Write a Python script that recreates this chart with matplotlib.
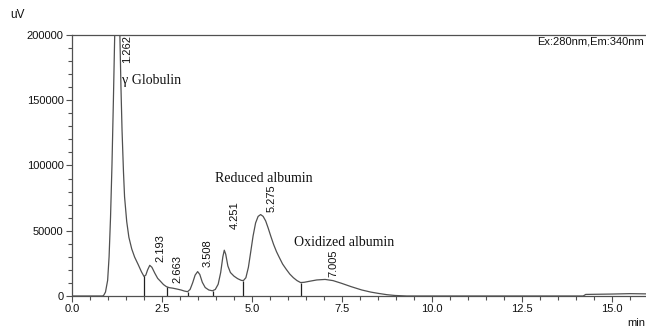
import matplotlib
matplotlib.use("Agg")
import matplotlib.pyplot as plt
from matplotlib.ticker import MultipleLocator

# ---- data ----
time_min = [0.0, 0.85, 0.88, 0.93, 0.99, 1.03, 1.07, 1.11, 1.15, 1.19, 1.22, 1.262,
            1.30, 1.33, 1.36, 1.39, 1.43, 1.46, 1.52, 1.58, 1.66, 1.74, 1.84, 1.93,
            2.00, 2.05, 2.10, 2.16, 2.22, 2.30, 2.38, 2.45, 2.54, 2.62, 2.70, 2.80,
            2.92, 3.03, 3.12, 3.21, 3.28, 3.35, 3.42, 3.49, 3.55, 3.62, 3.70, 3.80,
            3.90, 3.98, 4.06, 4.13, 4.19, 4.23, 4.27, 4.33, 4.40, 4.50, 4.60, 4.70,
            4.76, 4.83, 4.90, 4.96, 5.03, 5.10, 5.17, 5.24, 5.31, 5.38, 5.45, 5.52,
            5.60, 5.68, 5.75, 5.85, 5.95, 6.05, 6.15, 6.25, 6.35, 6.45, 6.60, 6.80,
            7.03, 7.25, 7.49, 7.75, 8.05, 8.30, 8.51, 8.75, 8.97, 9.30, 14.20, 14.27,
            14.50, 15.00, 15.50, 16.00]
signal_uV = [0, 0, 500, 3000, 12000, 30000, 60000, 100000, 150000, 205000, 240000, 260000,
             230000, 200000, 160000, 127000, 95000, 76000, 57000, 45000, 36000, 29800, 24000, 18500,
             15000, 16000, 20000, 23500, 22000, 17500, 13500, 11500, 8800, 7200, 6400, 6000,
             5300, 4600, 3800, 3300, 5000, 10000, 16000, 18700, 16500, 10500, 6500, 4600,
             4000, 5000, 9000, 18000, 30000, 35100, 32000, 23000, 18000, 15200, 13300, 12000,
             11800, 14000, 22000, 33000, 46000, 56000, 61000, 62400, 61000, 57500, 52000, 46000,
             39500, 34000, 30000, 24500, 20500, 16800, 14000, 11800, 10300, 10500, 11300, 12300,
             12700, 11800, 9700, 7200, 4600, 3000, 2000, 1000, 400, 0, 0, 1200,
             1300, 1500, 1800, 1600]

# integration drop lines (time, height)
drop_times = [2.00, 2.64, 3.21, 3.92, 4.76, 6.35]
drop_heights = [15000, 7100, 3300, 4000, 11800, 10300]

# retention-time labels
peak_rts = [1.262, 2.193, 2.663, 3.508, 4.251, 5.275, 7.005]
peak_label_y = [178800, 26200, 9900, 22400, 51000, 64400, 14700]

# named compound annotations
compound_names = ["\u03b3 Globulin", "Reduced albumin", "Oxidized albumin"]
compound_x = [1.4, 3.98, 6.16]
compound_y = [165000, 90000, 41000]

x_ticks = [0.0, 2.5, 5.0, 7.5, 10.0, 12.5, 15.0]
y_ticks = [0, 50000, 100000, 150000, 200000]

# ---- figure ----
W, H = 646, 329
fig = plt.figure(figsize=(W / 100, H / 100), dpi=100)
ax = fig.add_axes([72 / W, (H - 296) / H, (W - 72) / W, (296 - 35) / H])

line_col = "#505050"
ax.plot(time_min, signal_uV, color=line_col, lw=0.9, clip_on=True)
ax.vlines(drop_times, 0, drop_heights, color="#202020", lw=0.9)

for rt, ly in zip(peak_rts, peak_label_y):
    ax.annotate(f"{rt:.3f}", xy=(rt, ly), xytext=(7, 0), textcoords="offset points",
                rotation=90, ha="center", va="bottom", fontsize=8,
                family="Liberation Sans", color="#111111")

for name, cx, cy in zip(compound_names, compound_x, compound_y):
    ax.text(cx, cy, name, fontsize=10, family="Liberation Serif", ha="left",
            va="center", color="#111111")

ax.set_xlim(0, (W - 72) / 36.0)
ax.set_ylim(0, 200000)
ax.set_xticks(x_ticks)
ax.set_xticklabels([f"{v:.1f}" for v in x_ticks])
ax.set_yticks(y_ticks)
ax.set_yticklabels([str(v) for v in y_ticks])
ax.xaxis.set_minor_locator(MultipleLocator(0.5))
ax.yaxis.set_minor_locator(MultipleLocator(10000))
ax.tick_params(which="major", direction="out", length=4, width=0.8, color=line_col,
               labelsize=8, pad=2)
ax.tick_params(which="minor", direction="out", length=3, width=0.8, color=line_col)
for lab in ax.get_xticklabels() + ax.get_yticklabels():
    lab.set_family("Liberation Sans")
    lab.set_color("#111111")

ax.spines["right"].set_visible(False)
for s in ["left", "bottom", "top"]:
    ax.spines[s].set_color(line_col)
    ax.spines[s].set_linewidth(0.9)

fig.text(10 / W, 1 - 15 / H, "uV", fontsize=8.5, family="Liberation Sans",
         ha="left", va="center", color="#111111")
fig.text(627 / W, 1 - 323 / H, "min", fontsize=8, family="Liberation Sans",
         ha="left", va="center", color="#111111")
fig.text(644 / W, 1 - 42 / H, "Ex:280nm,Em:340nm", fontsize=8,
         family="Liberation Sans", ha="right", va="center", color="#111111")

fig.savefig("out.png", dpi=100)
